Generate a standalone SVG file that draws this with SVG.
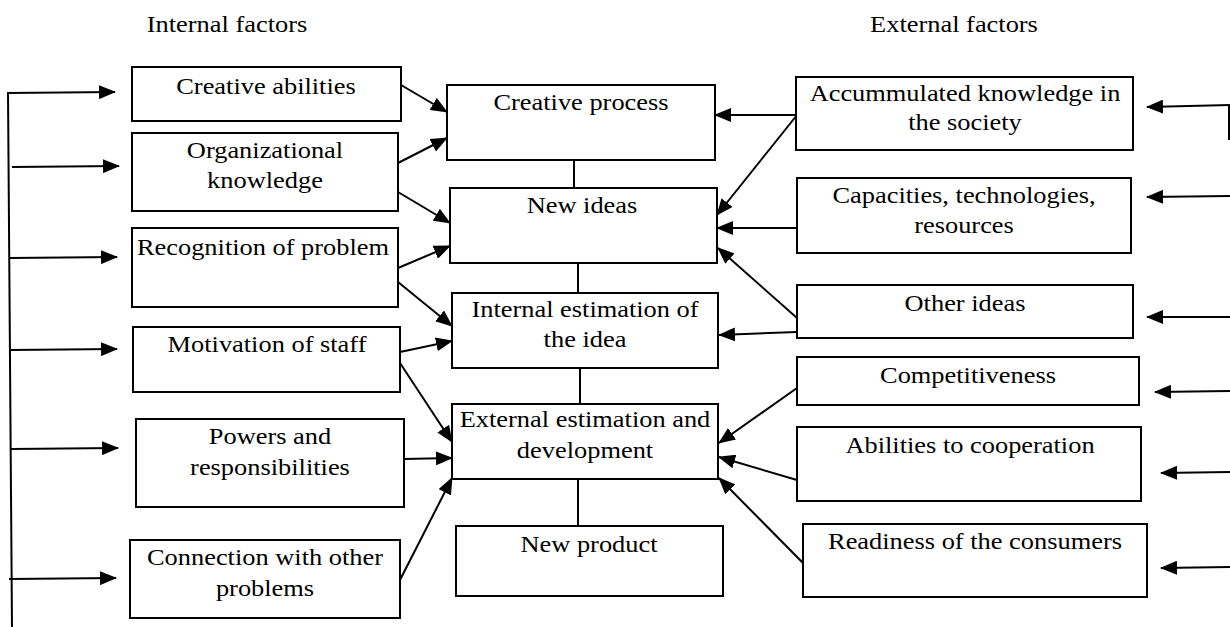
<svg xmlns="http://www.w3.org/2000/svg" width="1230" height="627" viewBox="0 0 1230 627">
<style>
rect{fill:#fff;stroke:#000;stroke-width:2}
text{font-size:24px;fill:#000;text-anchor:middle}
.c line,.c path{stroke:#000;stroke-width:2;fill:none}
.a{marker-end:url(#ah)}
</style>
<defs>
<marker id="ah" markerUnits="userSpaceOnUse" markerWidth="18" markerHeight="14" refX="16" refY="7" orient="auto">
<path d="M0,0 L17,7 L0,14 Z" fill="#000"/>
</marker>
</defs>
<rect x="0" y="0" width="1230" height="627" style="stroke:none"/>
<g font-family="'Liberation Serif', 'Times New Roman', 'DejaVu Serif', serif">
<g id="headers">
<text transform="translate(227,32) scale(1.1,1)">Internal factors</text>
<text transform="translate(954,32) scale(1.1,1)">External factors</text>
</g>
<g class="c" id="connectors">
<line x1="8" y1="92" x2="12" y2="627"/>
<line class="a" x1="8" y1="93" x2="115" y2="92"/>
<line class="a" x1="12" y1="167" x2="119" y2="166"/>
<line class="a" x1="10" y1="258" x2="117" y2="257"/>
<line class="a" x1="10" y1="350" x2="117" y2="349"/>
<line class="a" x1="11" y1="449" x2="118" y2="448"/>
<line class="a" x1="9" y1="579" x2="116" y2="578"/>
<line x1="1229" y1="105" x2="1229" y2="140"/>
<line class="a" x1="1230" y1="105" x2="1147" y2="107"/>
<line class="a" x1="1230" y1="196" x2="1147" y2="197"/>
<line class="a" x1="1230" y1="317" x2="1147" y2="317"/>
<line class="a" x1="1230" y1="391" x2="1155" y2="392"/>
<line class="a" x1="1230" y1="472" x2="1161" y2="473"/>
<line class="a" x1="1230" y1="567" x2="1161" y2="568"/>
<line x1="574" y1="160" x2="574" y2="188"/>
<line x1="578" y1="263" x2="578" y2="293"/>
<line x1="580" y1="368" x2="580" y2="404"/>
<line x1="578" y1="479" x2="578" y2="526"/>
<line class="a" x1="401" y1="85" x2="447" y2="112"/>
<line class="a" x1="398" y1="163" x2="447" y2="138"/>
<line class="a" x1="398" y1="192" x2="450" y2="223"/>
<line class="a" x1="398" y1="268" x2="450" y2="246"/>
<line class="a" x1="398" y1="282" x2="452" y2="326"/>
<line class="a" x1="400" y1="352" x2="452" y2="341"/>
<line class="a" x1="400" y1="363" x2="452" y2="442"/>
<line class="a" x1="404" y1="459" x2="452" y2="458"/>
<line class="a" x1="400" y1="580" x2="452" y2="478"/>
<line class="a" x1="797" y1="115" x2="715" y2="115"/>
<line class="a" x1="797" y1="115" x2="717" y2="215"/>
<line class="a" x1="797" y1="228" x2="717" y2="228"/>
<line class="a" x1="797" y1="318" x2="718" y2="248"/>
<line class="a" x1="797" y1="332" x2="719" y2="335"/>
<line class="a" x1="797" y1="388" x2="719" y2="443"/>
<line class="a" x1="797" y1="480" x2="719" y2="457"/>
<line class="a" x1="803" y1="563" x2="719" y2="478"/>
</g>
<g id="creative-abilities"><rect x="132" y="67" width="269" height="54"/><text transform="translate(266,94) scale(1.1,1)">Creative abilities</text></g>
<g id="organizational-knowledge"><rect x="132" y="133" width="266" height="78"/><text transform="translate(265,158) scale(1.1,1)">Organizational</text><text transform="translate(265,188) scale(1.1,1)">knowledge</text></g>
<g id="recognition"><rect x="132" y="228" width="266" height="79"/><text transform="translate(263,255) scale(1.1,1)">Recognition of problem</text></g>
<g id="motivation"><rect x="133" y="327" width="267" height="65"/><text transform="translate(267,352) scale(1.1,1)">Motivation of staff</text></g>
<g id="powers"><rect x="136" y="419" width="268" height="88"/><text transform="translate(270,444) scale(1.1,1)">Powers and</text><text transform="translate(270,475) scale(1.1,1)">responsibilities</text></g>
<g id="connection"><rect x="130" y="540" width="270" height="78"/><text transform="translate(265,565) scale(1.1,1)">Connection with other</text><text transform="translate(265,596) scale(1.1,1)">problems</text></g>
<g id="creative-process"><rect x="447" y="85" width="268" height="75"/><text transform="translate(581,110) scale(1.1,1)">Creative process</text></g>
<g id="new-ideas"><rect x="450" y="188" width="267" height="75"/><text transform="translate(582,213) scale(1.1,1)">New ideas</text></g>
<g id="internal-estimation"><rect x="452" y="293" width="266" height="75"/><text transform="translate(585,317) scale(1.1,1)">Internal estimation of</text><text transform="translate(585,347) scale(1.1,1)">the idea</text></g>
<g id="external-estimation"><rect x="452" y="404" width="266" height="75"/><text transform="translate(585,427) scale(1.1,1)">External estimation and</text><text transform="translate(585,458) scale(1.1,1)">development</text></g>
<g id="new-product"><rect x="456" y="526" width="267" height="70"/><text transform="translate(589,552) scale(1.1,1)">New product</text></g>
<g id="accumulated-knowledge"><rect x="796" y="77" width="337" height="73"/><text transform="translate(965,101) scale(1.1,1)">Accummulated knowledge in</text><text transform="translate(965,130) scale(1.1,1)">the society</text></g>
<g id="capacities"><rect x="797" y="178" width="334" height="75"/><text transform="translate(964,203) scale(1.1,1)">Capacities, technologies,</text><text transform="translate(964,233) scale(1.1,1)">resources</text></g>
<g id="other-ideas"><rect x="797" y="285" width="336" height="53"/><text transform="translate(965,311) scale(1.1,1)">Other ideas</text></g>
<g id="competitiveness"><rect x="797" y="357" width="342" height="48"/><text transform="translate(968,383) scale(1.1,1)">Competitiveness</text></g>
<g id="abilities-cooperation"><rect x="797" y="427" width="344" height="74"/><text transform="translate(970,453) scale(1.1,1)">Abilities to cooperation</text></g>
<g id="readiness"><rect x="803" y="524" width="344" height="73"/><text transform="translate(975,549) scale(1.1,1)">Readiness of the consumers</text></g>
</g>
</svg>
